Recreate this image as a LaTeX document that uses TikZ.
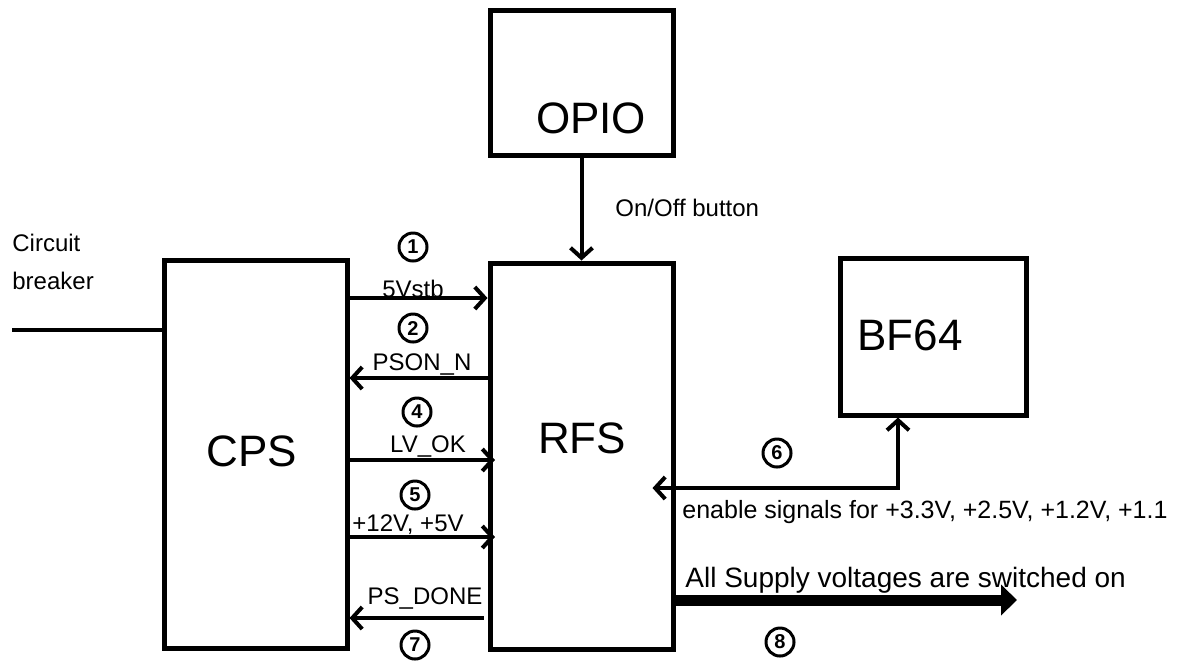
\documentclass[tikz,border=0pt]{standalone}
\usepackage{fontspec}
\setmainfont{Liberation Sans}
\usetikzlibrary{arrows.meta, positioning, calc}

\begin{document}
\begin{tikzpicture}[x=0.5pt, y=-0.5pt,
    blk/.style={draw, line width=2.5pt, inner sep=0pt},
    big/.style={font=\fontsize{22}{26}\selectfont, inner sep=0pt},
    lbl/.style={font=\fontsize{12}{14}\selectfont, inner sep=0pt},
    num/.style={circle, draw, line width=1.5pt, inner sep=0pt, minimum size=14pt, font=\fontsize{10}{10}\selectfont\bfseries},
    sig/.style={line width=2pt, >={Straight Barb[length=5pt, width=11pt]}, ->},
    wire/.style={line width=2pt}]
  \useasboundingbox (0,0) rectangle (1186,661);

  % blocks
  \node[blk, minimum width=91.5pt, minimum height=72.5pt] (opio) at (581.5,82.5) {};
  \node[blk, minimum width=91.5pt, minimum height=194pt] (cps) at (255.5,454) {};
  \node[blk, minimum width=91.5pt, minimum height=193pt] (rfs) at (581.5,456) {};
  \node[blk, minimum width=93pt, minimum height=78.5pt] (bf) at (933,336.5) {};
  \node[big] (opiot) at (591,118) {OPIO};
  \node[big] (cpst) at (252,451) {CPS};
  \node[big] (rfst) at (582,438) {RFS};
  \node[big] (bft) at (910,335) {BF64};

  % signal rows
  \coordinate (cb) at (12,330);
  \coordinate (r1) at (0,298);
  \coordinate (r2) at (0,378);
  \coordinate (r4) at (0,460);
  \coordinate (r5) at (0,537);
  \coordinate (r7) at (0,618);
  \coordinate (r6) at (898,488);
  \coordinate (r8) at (0,600);
  \coordinate (out8) at (1017,600);

  \node[lbl, anchor=north west, align=left, font=\fontsize{12}{19}\selectfont] (cbt) at (12,234) {Circuit\\breaker};
  \draw[wire] (cb) -- (cps.west |- cb);

  \draw[sig] (opio.south) -- (rfs.north);
  \node[lbl, anchor=west] (onoff) at (615,208) {On/Off button};

  \draw[sig] (cps.east |- r1) -- (rfs.west |- r1);
  \node[num] (n1) at (413,247) {1};
  \node[lbl] (l1) at (413,289) {5Vstb};

  \draw[sig] (rfs.west |- r2) -- (cps.east |- r2);
  \node[num] (n2) at (413,328) {2};
  \node[lbl] (l2) at (422,364) {PSON\_N};

  \draw[sig] (cps.east |- r4) -- ([xshift=3.75pt]rfs.west |- r4);
  \node[num] (n4) at (417,412) {4};
  \node[lbl] (l4) at (428,446) {LV\_OK};

  \draw[sig] (cps.east |- r5) -- ([xshift=3.75pt]rfs.west |- r5);
  \node[num] (n5) at (415,495) {5};
  \node[lbl] (l5) at (408,525) {+12V, +5V};

  \draw[sig] ([xshift=-2pt]rfs.west |- r7) -- (cps.east |- r7);
  \node[num] (n7) at (415,645) {7};
  \node[lbl] (l7) at (425,598) {PS\_DONE};

  \draw[sig, <->] ([xshift=-11.5pt]rfs.east |- r6) -- (r6) -- (r6 |- bf.south);
  \node[num] (n6) at (777,453) {6};
  \node[lbl, anchor=base west, font=\fontsize{12.5}{14}\selectfont] (l6) at (682,518) {enable signals for +3.3V, +2.5V, +1.2V, +1.1};

  \draw[line width=5.5pt, -{Triangle[length=8pt, width=15pt]}] (rfs.east |- r8) -- (out8);
  \node[num] (n8) at (780,642) {8};
  \node[lbl, anchor=base west, font=\fontsize{14}{16}\selectfont] (l8) at (685,587) {All Supply voltages are switched on};
\end{tikzpicture}
\end{document}
